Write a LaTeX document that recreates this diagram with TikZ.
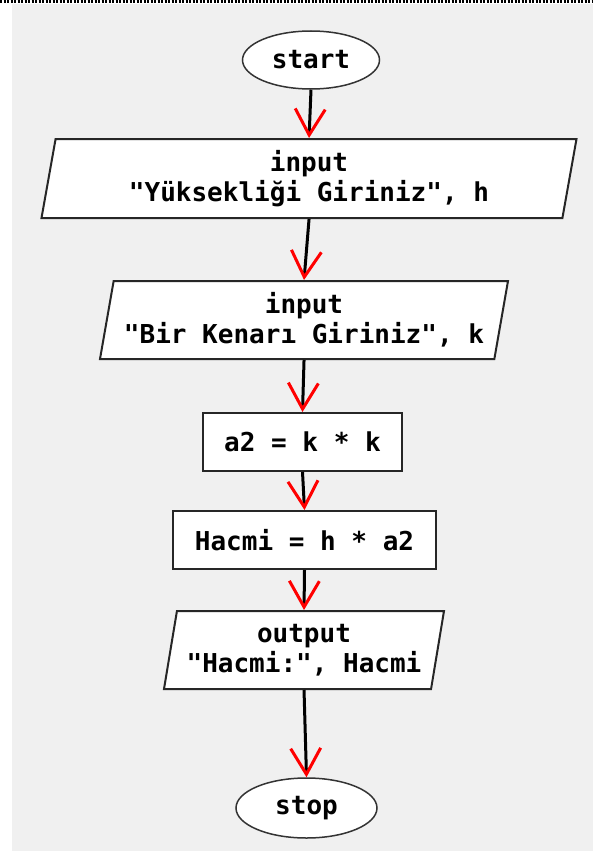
\documentclass[tikz,border=0pt]{standalone}
\usepackage{fontspec}
\setmonofont{DejaVu Sans Mono}
\usetikzlibrary{arrows.meta, shapes.geometric}

\newcommand{\chartfont}{\fontsize{26}{30}\selectfont\ttfamily\bfseries}

\begin{document}
\begin{tikzpicture}[
    x=1pt,
    y=-1pt,
    terminal/.style={
        ellipse,
        draw=black!80,
        line width=1.5pt,
        fill=white,
        inner sep=0pt,
        font=\chartfont,
    },
    iobox/.style={
        trapezium,
        trapezium left angle=76,
        trapezium right angle=104,
        trapezium stretches body,
        draw=black!85,
        line width=2pt,
        fill=white,
        inner sep=0pt,
        minimum height=79pt,
        align=center,
        font=\chartfont,
    },
    procbox/.style={
        rectangle,
        draw=black!85,
        line width=2pt,
        fill=white,
        inner sep=0pt,
        minimum height=58pt,
        font=\chartfont,
    },
    flow/.style={
        line width=3pt,
        -{Straight Barb[color=red, length=26pt, width=30pt, line width=3pt]},
    }
]
    % Canvas
    \useasboundingbox (0,0) rectangle (593,851);
    \fill[black!6] (12,4) rectangle (593,851);
    \draw[line width=2.5pt, dash pattern=on 2pt off 1.5pt] (0,1.5) -- (593,1.5);

    % Nodes
    \node[terminal, minimum width=137pt, minimum height=58pt] (start) at (311,60) {start};
    \node[iobox, minimum width=535pt] (inheight) at (309,178.5)
        {input\\"Yüksekliği Giriniz", h};
    \node[iobox, minimum width=408pt, minimum height=78pt] (inedge) at (304,320)
        {input\\"Bir Kenarı Giriniz", k};
    \node[procbox, minimum width=199pt] (area) at (302.5,442) {a2 = k * k};
    \node[procbox, minimum width=263pt] (volume) at (304.5,540) {Hacmi = h * a2};
    \node[iobox, minimum width=280pt, minimum height=78pt] (outvolume) at (304,650)
        {output\\"Hacmi:", Hacmi};
    \node[terminal, minimum width=141pt, minimum height=60pt] (stop) at (306.5,808) {stop};

    % Connectors
    \draw[flow] (start.south) -- (inheight.north);
    \draw[flow] (inheight.south) -- (inedge.north);
    \draw[flow] (inedge.south) -- (area.north);
    \draw[flow] (area.south) -- (volume.north);
    \draw[flow] (volume.south) -- (outvolume.north);
    \draw[flow] (outvolume.south) -- (stop.north);
\end{tikzpicture}
\end{document}
